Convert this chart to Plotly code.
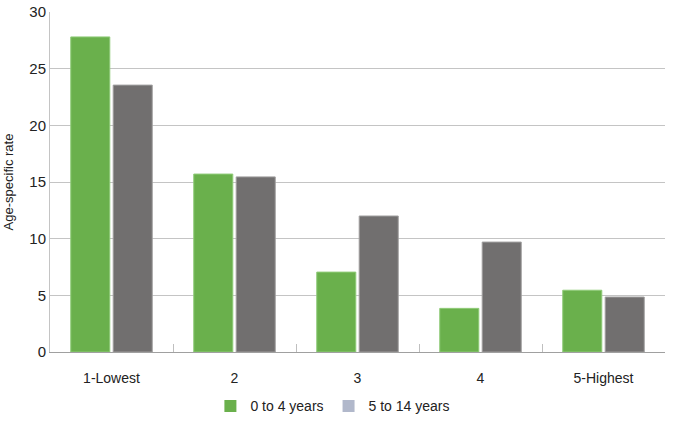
import plotly.graph_objects as go

categories = ["1-Lowest", "2", "3", "4", "5-Highest"]
age_0_4 = [27.8, 15.7, 7.05, 3.85, 5.45]
age_5_14 = [23.55, 15.45, 12.0, 9.7, 4.85]
series_names = ["0 to 4 years", "5 to 14 years"]
y_ticks = [0, 5, 10, 15, 20, 25, 30]

green = "#6ab04c"
grey = "#716f6f"
legend_grey = "#b1b8cb"

fig = go.Figure()
fig.add_trace(go.Bar(x=categories, y=age_0_4, name=series_names[0], showlegend=False,
                     marker=dict(color=green, line=dict(color="#8fcb78", width=1))))
fig.add_trace(go.Bar(x=categories, y=age_5_14, name=series_names[1], showlegend=False,
                     marker=dict(color=grey, line=dict(color="#a09f9f", width=1))))
fig.add_trace(go.Scatter(x=[None], y=[None], mode="markers", name=series_names[0],
                         marker=dict(symbol="square", size=12, color=green)))
fig.add_trace(go.Scatter(x=[None], y=[None], mode="markers", name=series_names[1],
                         marker=dict(symbol="square", size=12, color=legend_grey)))

fig.update_layout(
    width=675, height=432,
    margin=dict(l=50, r=10, t=12, b=80),
    paper_bgcolor="white", plot_bgcolor="white",
    font=dict(family="Liberation Sans, Arial, sans-serif", size=13, color="#222"),
    barmode="group", bargap=0.31, bargroupgap=0.08,
    legend=dict(orientation="h", x=0.46, xanchor="center",
                y=-0.16, yanchor="middle", font=dict(size=14), itemwidth=30),
    xaxis=dict(type="category", showline=True, linecolor="#a0a0a0", linewidth=1,
               ticks="inside", ticklen=8, tickcolor="#bfbfbf", tickson="boundaries",
               showgrid=False, tickfont=dict(size=14), ticklabelstandoff=13,
               automargin=False),
    yaxis=dict(range=[0, 30], tickvals=y_ticks, showgrid=True, gridcolor="#c4c4c4",
               showline=True, linecolor="#c4c4c4", zeroline=False,
               tickfont=dict(size=15), automargin=False,
               title=dict(text="Age-specific rate", font=dict(size=13), standoff=12)),
)

fig.write_html("out.html", config={"displayModeBar": False},
               post_script="document.body.style.margin='0';")
